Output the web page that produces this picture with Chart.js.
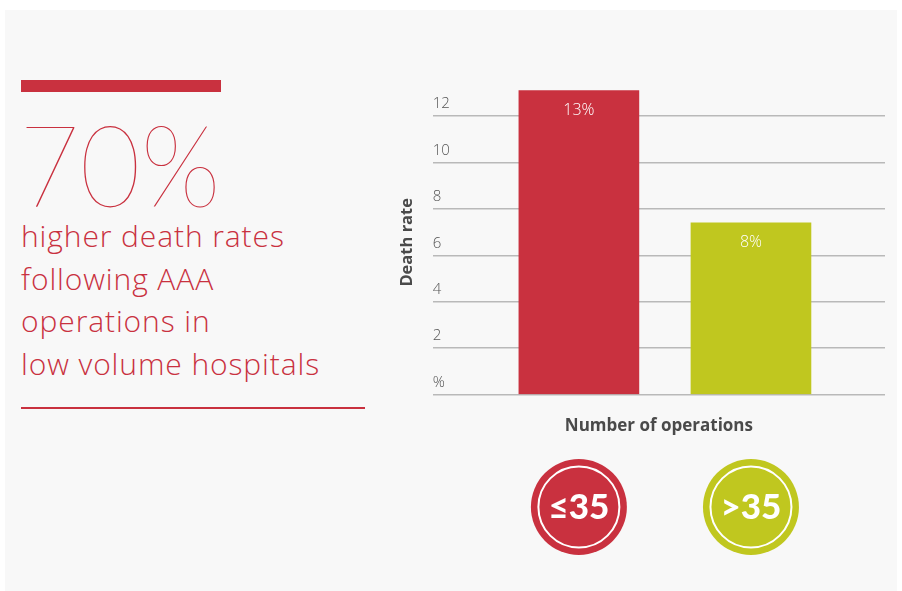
<!DOCTYPE html>
<html>
<head>
<meta charset="utf-8">
<script src="https://cdn.jsdelivr.net/npm/chart.js@4"></script>
<style>
  html, body { margin:0; padding:0; background:#ffffff; }
  body { width:902px; height:591px; position:relative; overflow:hidden; font-family: Lato, "Open Sans", sans-serif; }
  #panel { position:absolute; left:5px; top:10px; width:892px; height:581px; background:#f8f8f8; }
  #topbar { position:absolute; left:21px; top:80px; width:200px; height:12px; background:#c9313f; }
  #big { position:absolute; left:19px; top:98px; font-family: Lato, sans-serif; font-weight:100; font-size:114px; line-height:130px; color:#c9313f; transform: scaleX(0.92); transform-origin: 0 0; white-space:nowrap; }
  #sub { position:absolute; left:21px; top:215px; font-family: "Open Sans", sans-serif; font-weight:300; font-size:30px; letter-spacing:0.9px; line-height:42.7px; color:#c9313f; white-space:nowrap; }
  #botline { position:absolute; left:21px; top:407px; width:344px; height:2px; background:#c9313f; }
  #wrap { position:absolute; left:0; top:0; width:902px; height:591px; }
</style>
</head>
<body>
<div id="panel"></div>
<div id="topbar"></div>
<div id="big">70%</div>
<div id="sub">higher death rates<br>following AAA<br>operations in<br>low volume hospitals</div>
<div id="botline"></div>
<div id="wrap"><canvas id="c" width="902" height="591"></canvas></div>
<script>
const categories = ['≤35', '>35'];
const deathRates = [13.1, 7.4];
const valueLabels = ['13%', '8%'];
const yTickLabels = {0: '%', 2: '2', 4: '4', 6: '6', 8: '8', 10: '10', 12: '12'};
const barColors = ['#c9313f', '#c0c71f'];

const positions = categories.map((c, i) => i + 1);

const valueLabelPlugin = {
  id: 'valueLabels',
  afterDatasetsDraw(chart) {
    const ctx = chart.ctx;
    const meta = chart.getDatasetMeta(0);
    ctx.save();
    ctx.fillStyle = '#ffffff';
    ctx.font = '300 16px "Open Sans", sans-serif';
    ctx.textAlign = 'center';
    ctx.textBaseline = 'middle';
    meta.data.forEach((bar, i) => {
      ctx.fillText(valueLabels[i], bar.x, bar.y + 20);
    });
    ctx.restore();
  }
};

const badgePlugin = {
  id: 'badges',
  afterDraw(chart) {
    const ctx = chart.ctx;
    const xs = chart.scales.x;
    const cy = 507;
    ctx.save();
    categories.forEach((cat, i) => {
      const cx = xs.getPixelForValue(positions[i]);
      ctx.beginPath();
      ctx.arc(cx, cy, 48, 0, Math.PI * 2);
      ctx.fillStyle = barColors[i];
      ctx.fill();
      ctx.beginPath();
      ctx.arc(cx, cy, 40.5, 0, Math.PI * 2);
      ctx.strokeStyle = '#ffffff';
      ctx.lineWidth = 2;
      ctx.stroke();
      ctx.fillStyle = '#ffffff';
      ctx.font = '900 35px Lato, sans-serif';
      ctx.textAlign = 'center';
      ctx.textBaseline = 'middle';
      ctx.fillText(cat, cx, cy + 1);
    });
    ctx.restore();
  }
};

new Chart(document.getElementById('c'), {
  type: 'bar',
  data: {
    datasets: [{
      data: positions.map((x, i) => ({x: x, y: deathRates[i]})),
      backgroundColor: barColors,
      borderWidth: 0,
      barThickness: 120
    }]
  },
  options: {
    responsive: false,
    animation: false,
    events: [],
    layout: { padding: { left: 397, right: 17, top: 90, bottom: 155 } },
    plugins: { legend: { display: false }, tooltip: { enabled: false } },
    scales: {
      x: {
        type: 'linear',
        offset: false,
        min: 0.151,
        max: 2.779,
        grid: { display: false },
        border: { display: false },
        ticks: { display: false },
        title: {
          display: true,
          text: 'Number of operations',
          color: '#4a4a4a',
          font: { family: '"Open Sans", sans-serif', weight: 'bold', size: 17 },
          padding: { top: 13, bottom: 0 }
        }
      },
      y: {
        min: 0,
        max: 13.12,
        grid: { color: '#b9b9b9', lineWidth: 1.5, drawTicks: false },
        border: { display: false },
        ticks: {
          stepSize: 2,
          includeBounds: false,
          mirror: true,
          padding: 0,
          labelOffset: -12,
          color: '#555555',
          font: { family: '"Open Sans", sans-serif', weight: '300', size: 15 },
          callback: (v) => yTickLabels[v] !== undefined ? yTickLabels[v] : ''
        },
        title: {
          display: true,
          text: 'Death rate',
          color: '#4a4a4a',
          font: { family: '"Open Sans", sans-serif', weight: 'bold', size: 16.5 },
          padding: { top: 0, bottom: 16 }
        }
      }
    }
  },
  plugins: [valueLabelPlugin, badgePlugin]
});
</script>
</body>
</html>
